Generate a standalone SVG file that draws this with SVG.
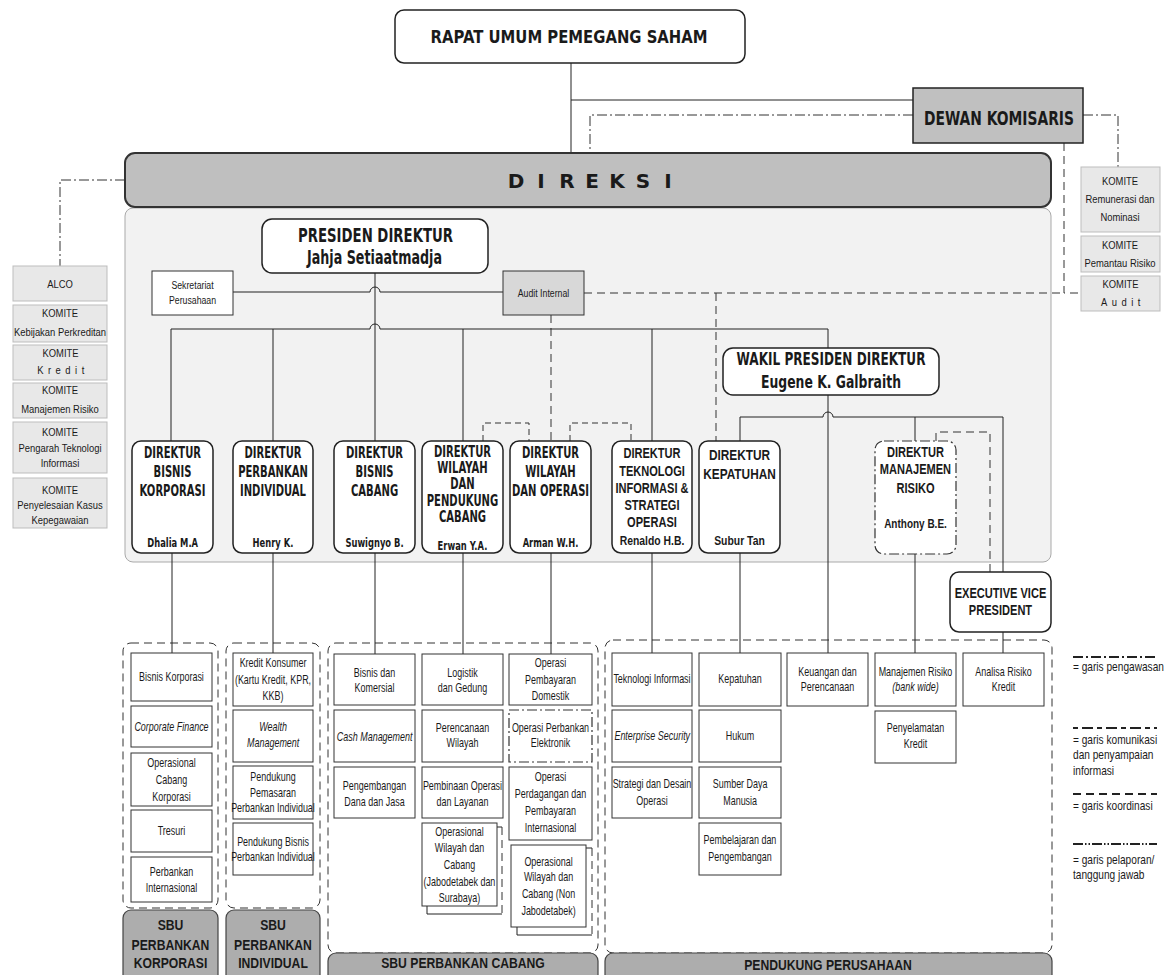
<svg xmlns="http://www.w3.org/2000/svg" width="1165" height="975" viewBox="0 0 1165 975">
<defs>
<style>
.panel{fill:#f2f2f2;stroke:#a9a9a9;stroke-width:1}
.nb{fill:#fff;stroke:#222;stroke-width:1.5}
.gr{fill:#c0c0c0;stroke:#222;stroke-width:1.5}
.dx{fill:#bfbfbf;stroke:#333;stroke-width:2}
.bx{fill:#fff;stroke:#333;stroke-width:1}
.au{fill:#d8d8d8;stroke:#333;stroke-width:1}
.mr{fill:#fff;stroke:#333;stroke-width:1.2;stroke-dasharray:10 3 2 3}
.km{fill:#e8e8e8;stroke:#bdbdbd;stroke-width:1}
.grp{fill:none;stroke:#333;stroke-width:1;stroke-dasharray:8 5}
.lbl{fill:#adadad;stroke:#444;stroke-width:1.2}
.ln{fill:none;stroke:#222;stroke-width:1}
.dd{fill:none;stroke:#333;stroke-width:1;stroke-dasharray:10 3 2 3}
.d2{fill:none;stroke:#333;stroke-width:1;stroke-dasharray:10 2 1.5 2 1.5 2}
.dk{fill:none;stroke:#333;stroke-width:1;stroke-dasharray:5 4 11 4}
.da{fill:none;stroke:#333;stroke-width:1;stroke-dasharray:8 5}
.db{fill:none;stroke:#333;stroke-width:1;stroke-dasharray:6 4}
.lgl{stroke:#222;stroke-width:1.8}
text{fill:#1a1a1a}
.h{font-family:"DejaVu Sans",sans-serif;font-weight:bold;text-anchor:middle}
.s{font-family:"Liberation Sans",Arial,sans-serif;font-size:13px;text-anchor:middle;transform-box:fill-box;transform-origin:center;transform:scaleX(0.69)}
.i{font-style:italic}
.k{font-family:"Liberation Sans",Arial,sans-serif;font-size:11.5px;text-anchor:middle;transform-box:fill-box;transform-origin:center;transform:scaleX(0.82)}
.sk{font-family:"Liberation Sans",Arial,sans-serif;font-size:11.5px;text-anchor:middle;transform-box:fill-box;transform-origin:center;transform:scaleX(0.76)}
.dt{font-family:"DejaVu Sans",sans-serif;font-weight:bold;font-size:15px;text-anchor:middle;transform-box:fill-box;transform-origin:center;transform:scaleX(0.67)}
.dn{font-family:"DejaVu Sans",sans-serif;font-weight:bold;font-size:12.5px;text-anchor:middle;transform-box:fill-box;transform-origin:center;transform:scaleX(0.67)}
.ab{font-family:"Liberation Sans",Arial,sans-serif;font-weight:bold;font-size:14px;text-anchor:middle;transform-box:fill-box;transform-origin:center;transform:scaleX(0.79)}
.an{font-family:"Liberation Sans",Arial,sans-serif;font-weight:bold;font-size:13px;text-anchor:middle;transform-box:fill-box;transform-origin:center;transform:scaleX(0.8)}
.lb{font-family:"Liberation Sans",Arial,sans-serif;font-weight:bold;font-size:14px;text-anchor:middle;transform-box:fill-box;transform-origin:center;transform:scaleX(0.87)}
.lg{font-family:"Liberation Sans",Arial,sans-serif;font-size:13px;text-anchor:start;transform-box:fill-box;transform-origin:left center;transform:scaleX(0.78)}
</style>
</defs>
<rect x="0" y="0" width="1165" height="975" fill="#fff"/>

<g id="panel-direksi"><rect class="panel" x="125" y="208" width="926" height="354" rx="8"/></g>

<g id="containers">
<rect class="grp" x="123" y="643" width="95" height="265" rx="8"/>
<rect class="grp" x="226" y="643" width="94" height="265" rx="8"/>
<rect class="grp" x="328" y="643" width="270" height="310" rx="8"/>
<rect class="grp" x="605" y="640" width="447" height="313" rx="8"/>
</g>

<g id="connectors">
<path class="ln" d="M571,63 V153 M571,100 H913"/>
<path class="dd" d="M913,115 H590 V153"/>
<path class="dd" d="M1083,115 H1118 V167"/>
<path class="dd" d="M125,180 H60 V266"/>
<path class="da" d="M584,293 H1064 M1064,143 V293 H1081"/>
<path class="da" d="M716,293 V441"/>
<path class="da" d="M551,315 V441"/>
<path class="ln" d="M233,292 H370 A5,5 0 0 1 380,292 H503"/>
<path class="ln" d="M375,273 V441"/>
<path class="ln" d="M171,441 V329 H370 A5,5 0 0 1 380,329 H828 V348"/>
<path class="ln" d="M273,329 V441 M463,329 V441 M652,329 V441"/>
<path class="ln" d="M828,395 V653"/>
<path class="ln" d="M740,441 V417 H823 A5,5 0 0 1 833,417 H1003 V572 M915,417 V441"/>
<path class="db" d="M483,441 V423 H529 V441 M570,441 V423 H631 V441"/>
<path class="da" d="M936,441 V432 H990 V572"/>
<path class="ln" d="M172,553 V653 M273,553 V653 M375,553 V654 M463,553 V654 M551,553 V654 M652,553 V653 M740,553 V653 M915,554 V653 M1003,632 V653"/>
</g>

<g id="rups"><rect class="nb" x="395" y="10" width="350" height="53" rx="9"/>
<text class="h" x="569" y="43" font-size="18" textLength="277" lengthAdjust="spacingAndGlyphs">RAPAT UMUM PEMEGANG SAHAM</text></g>

<g id="dewan-komisaris"><rect class="gr" x="913" y="88" width="170" height="55"/>
<text class="h" x="999" y="125" font-size="20" textLength="150" lengthAdjust="spacingAndGlyphs">DEWAN KOMISARIS</text></g>

<g id="direksi"><rect class="dx" x="125" y="153" width="926" height="54" rx="10"/>
<text class="h" font-size="20" x="516 541 567 592 617 643 668" y="188">DIREKSI</text></g>

<g id="komite-alco"><rect class="km" x="13" y="266" width="94" height="35"/><text class="k" x="60" y="288">ALCO</text></g>
<g id="komite-kebijakan"><rect class="km" x="13" y="305" width="94" height="37"/><text class="k"><tspan x="60" y="317">KOMITE</tspan><tspan x="60" y="336">Kebijakan Perkreditan</tspan></text></g>
<g id="komite-kredit"><rect class="km" x="13" y="345" width="94" height="35"/><text class="k"><tspan x="60" y="357">KOMITE</tspan><tspan x="63" y="374" letter-spacing="5.5">Kredit</tspan></text></g>
<g id="komite-mr"><rect class="km" x="13" y="383" width="94" height="35"/><text class="k"><tspan x="60" y="394">KOMITE</tspan><tspan x="60" y="413">Manajemen Risiko</tspan></text></g>
<g id="komite-ti"><rect class="km" x="13" y="422" width="94" height="51"/><text class="k"><tspan x="60" y="436">KOMITE</tspan><tspan x="60" y="452">Pengarah Teknologi</tspan><tspan x="60" y="467">Informasi</tspan></text></g>
<g id="komite-kasus"><rect class="km" x="13" y="478" width="94" height="50"/><text class="k"><tspan x="60" y="494">KOMITE</tspan><tspan x="60" y="509">Penyelesaian Kasus</tspan><tspan x="60" y="524">Kepegawaian</tspan></text></g>

<g id="komite-remunerasi"><rect class="km" x="1081" y="167" width="79" height="65"/><text class="k"><tspan x="1120" y="185">KOMITE</tspan><tspan x="1120" y="203">Remunerasi dan</tspan><tspan x="1120" y="221">Nominasi</tspan></text></g>
<g id="komite-pemantau"><rect class="km" x="1081" y="236" width="79" height="36"/><text class="k"><tspan x="1120" y="249">KOMITE</tspan><tspan x="1120" y="267">Pemantau Risiko</tspan></text></g>
<g id="komite-audit"><rect class="km" x="1081" y="276" width="79" height="35"/><text class="k"><tspan x="1120" y="288">KOMITE</tspan><tspan x="1123" y="306" letter-spacing="5.5">Audit</tspan></text></g>

<g id="presiden"><rect class="nb" x="262" y="219" width="226" height="54" rx="10"/>
<text class="h" x="375.5" y="242" font-size="19.5" textLength="155" lengthAdjust="spacingAndGlyphs">PRESIDEN DIREKTUR</text>
<text class="h" x="374.5" y="264" font-size="19.5" textLength="135" lengthAdjust="spacingAndGlyphs">Jahja Setiaatmadja</text></g>

<g id="sekretariat"><rect class="bx" x="152" y="271" width="81" height="44"/><text class="sk"><tspan x="192.5" y="289">Sekretariat</tspan><tspan x="192.5" y="304">Perusahaan</tspan></text></g>
<g id="audit-internal"><rect class="au" x="503" y="271" width="81" height="44"/><text class="sk" x="543.5" y="297">Audit Internal</text></g>

<g id="wakil"><rect class="nb" x="723" y="348" width="216" height="47" rx="10"/>
<text class="h" x="831" y="365" font-size="17" textLength="189" lengthAdjust="spacingAndGlyphs">WAKIL PRESIDEN DIREKTUR</text>
<text class="h" x="831" y="388" font-size="17" textLength="140" lengthAdjust="spacingAndGlyphs">Eugene K. Galbraith</text></g>

<g id="dir-korporasi"><rect class="nb" x="132" y="441" width="81" height="112" rx="9"/>
<text class="dt"><tspan x="172.5" y="458">DIREKTUR</tspan><tspan x="172.5" y="477">BISNIS</tspan><tspan x="172.5" y="496">KORPORASI</tspan></text>
<text class="dn" x="172.5" y="547">Dhalia M.A</text></g>
<g id="dir-individual"><rect class="nb" x="233" y="441" width="80" height="112" rx="9"/>
<text class="dt"><tspan x="273" y="458">DIREKTUR</tspan><tspan x="273" y="477">PERBANKAN</tspan><tspan x="273" y="496">INDIVIDUAL</tspan></text>
<text class="dn" x="273" y="547">Henry K.</text></g>
<g id="dir-cabang"><rect class="nb" x="334" y="441" width="81" height="112" rx="9"/>
<text class="dt"><tspan x="374.5" y="458">DIREKTUR</tspan><tspan x="374.5" y="477">BISNIS</tspan><tspan x="374.5" y="496">CABANG</tspan></text>
<text class="dn" x="374.5" y="547">Suwignyo B.</text></g>
<g id="dir-wilayah-pendukung"><rect class="nb" x="422" y="441" width="81" height="112" rx="9"/>
<text class="dt"><tspan x="462.5" y="457">DIREKTUR</tspan><tspan x="462.5" y="473">WILAYAH</tspan><tspan x="462.5" y="489">DAN</tspan><tspan x="462.5" y="506">PENDUKUNG</tspan><tspan x="462.5" y="522">CABANG</tspan></text>
<text class="dn" x="462.5" y="550">Erwan Y.A.</text></g>
<g id="dir-wilayah-operasi"><rect class="nb" x="510" y="441" width="81" height="112" rx="9"/>
<text class="dt"><tspan x="550.5" y="458">DIREKTUR</tspan><tspan x="550.5" y="477">WILAYAH</tspan><tspan x="550.5" y="496">DAN OPERASI</tspan></text>
<text class="dn" x="550.5" y="547">Arman W.H.</text></g>
<g id="dir-ti"><rect class="nb" x="612" y="441" width="80" height="112" rx="9"/>
<text class="ab"><tspan x="652" y="458">DIREKTUR</tspan><tspan x="652" y="476">TEKNOLOGI</tspan><tspan x="652" y="493">INFORMASI &amp;</tspan><tspan x="652" y="510">STRATEGI</tspan><tspan x="652" y="527">OPERASI</tspan></text>
<text class="an" x="652" y="545">Renaldo H.B.</text></g>
<g id="dir-kepatuhan"><rect class="nb" x="699" y="441" width="81" height="112" rx="9"/>
<text class="ab" style="font-size:15px"><tspan x="739.5" y="460">DIREKTUR</tspan><tspan x="739.5" y="479">KEPATUHAN</tspan></text>
<text class="an" x="739.5" y="545">Subur Tan</text></g>
<g id="dir-risiko"><rect class="mr" x="875" y="441" width="81" height="113" rx="9"/>
<text class="ab"><tspan x="915.5" y="457">DIREKTUR</tspan><tspan x="915.5" y="474">MANAJEMEN</tspan><tspan x="915.5" y="493">RISIKO</tspan></text>
<text class="an" style="font-size:12.5px" x="915.5" y="528">Anthony B.E.</text></g>
<g id="evp"><rect class="nb" x="950" y="572" width="101" height="60" rx="9"/>
<text class="ab"><tspan x="1000.5" y="598">EXECUTIVE VICE</tspan><tspan x="1000.5" y="615">PRESIDENT</tspan></text></g>

<g id="sbu-korporasi">
<rect class="bx" x="131" y="653" width="81" height="48"/><text class="s" x="171.5" y="681">Bisnis Korporasi</text>
<rect class="bx" x="131" y="706" width="81" height="41"/><text class="s i" x="171.5" y="731">Corporate Finance</text>
<rect class="bx" x="131" y="753" width="81" height="53"/><text class="s"><tspan x="171.5" y="767">Operasional</tspan><tspan x="171.5" y="784">Cabang</tspan><tspan x="171.5" y="801">Korporasi</tspan></text>
<rect class="bx" x="131" y="810" width="81" height="42"/><text class="s" x="171.5" y="835">Tresuri</text>
<rect class="bx" x="131" y="857" width="81" height="45"/><text class="s"><tspan x="171.5" y="876">Perbankan</tspan><tspan x="171.5" y="892">Internasional</tspan></text>
<rect class="lbl" x="123" y="910" width="95" height="80" rx="8"/>
<text class="lb"><tspan x="170.5" y="930">SBU</tspan><tspan x="170.5" y="950">PERBANKAN</tspan><tspan x="170.5" y="968">KORPORASI</tspan></text>
</g>

<g id="sbu-individual">
<rect class="bx" x="233" y="653" width="80" height="53"/><text class="s"><tspan x="273" y="667">Kredit Konsumer</tspan><tspan x="273" y="684">(Kartu Kredit, KPR,</tspan><tspan x="273" y="700">KKB)</tspan></text>
<rect class="bx" x="233" y="710" width="80" height="52"/><text class="s i"><tspan x="273" y="731">Wealth</tspan><tspan x="273" y="747">Management</tspan></text>
<rect class="bx" x="233" y="766" width="80" height="53"/><text class="s"><tspan x="273" y="781">Pendukung</tspan><tspan x="273" y="797">Pemasaran</tspan><tspan x="273" y="812">Perbankan Individual</tspan></text>
<rect class="bx" x="233" y="823" width="80" height="52"/><text class="s"><tspan x="273" y="846">Pendukung Bisnis</tspan><tspan x="273" y="861">Perbankan Individual</tspan></text>
<rect class="lbl" x="226" y="910" width="94" height="80" rx="8"/>
<text class="lb"><tspan x="273" y="930">SBU</tspan><tspan x="273" y="950">PERBANKAN</tspan><tspan x="273" y="968">INDIVIDUAL</tspan></text>
</g>

<g id="sbu-cabang">
<rect class="bx" x="334" y="654" width="81" height="51"/><text class="s"><tspan x="374.5" y="677">Bisnis dan</tspan><tspan x="374.5" y="692">Komersial</tspan></text>
<rect class="bx" x="334" y="710" width="81" height="52"/><text class="s i" x="374.5" y="741">Cash Management</text>
<rect class="bx" x="334" y="767" width="81" height="51"/><text class="s"><tspan x="374.5" y="790">Pengembangan</tspan><tspan x="374.5" y="806">Dana dan Jasa</tspan></text>
<rect class="bx" x="422" y="654" width="81" height="51"/><text class="s"><tspan x="462.5" y="677">Logistik</tspan><tspan x="462.5" y="692">dan Gedung</tspan></text>
<rect class="bx" x="422" y="710" width="81" height="52"/><text class="s"><tspan x="462.5" y="732">Perencanaan</tspan><tspan x="462.5" y="747">Wilayah</tspan></text>
<rect class="bx" x="422" y="767" width="81" height="51"/><text class="s"><tspan x="462.5" y="790">Pembinaan Operasi</tspan><tspan x="462.5" y="806">dan Layanan</tspan></text>
<path class="ln" d="M497,827 H502 M427,906 V914 H502"/><path class="da" d="M502,827 V914"/>
<rect class="bx" x="422" y="823" width="75" height="83"/><text class="s"><tspan x="459.5" y="836">Operasional</tspan><tspan x="459.5" y="852">Wilayah dan</tspan><tspan x="459.5" y="869">Cabang</tspan><tspan x="459.5" y="886">(Jabodetabek dan</tspan><tspan x="459.5" y="902">Surabaya)</tspan></text>
<rect class="bx" x="509" y="654" width="83" height="51"/><text class="s"><tspan x="550.5" y="667">Operasi</tspan><tspan x="550.5" y="684">Pembayaran</tspan><tspan x="550.5" y="700">Domestik</tspan></text>
<rect class="mr" x="509" y="710" width="83" height="52" rx="0"/><text class="s"><tspan x="550.5" y="732">Operasi Perbankan</tspan><tspan x="550.5" y="747">Elektronik</tspan></text>
<rect class="bx" x="509" y="767" width="83" height="73"/><text class="s"><tspan x="550.5" y="781">Operasi</tspan><tspan x="550.5" y="798">Perdagangan dan</tspan><tspan x="550.5" y="815">Pembayaran</tspan><tspan x="550.5" y="832">Internasional</tspan></text>
<path class="ln" d="M586,848 H592 M517,927 V935 H592"/><path class="da" d="M592,848 V935"/>
<rect class="bx" x="511" y="845" width="75" height="82"/><text class="s"><tspan x="548.5" y="866">Operasional</tspan><tspan x="548.5" y="881">Wilayah dan</tspan><tspan x="548.5" y="898">Cabang (Non</tspan><tspan x="548.5" y="915">Jabodetabek)</tspan></text>
<rect class="lbl" x="328" y="953" width="270" height="40" rx="8"/>
<text class="lb" x="463" y="968">SBU PERBANKAN CABANG</text>
</g>

<g id="pendukung-perusahaan">
<rect class="bx" x="612" y="653" width="80" height="53"/><text class="s" x="652" y="683">Teknologi Informasi</text>
<rect class="bx" x="612" y="710" width="80" height="52"/><text class="s i" x="652" y="740">Enterprise Security</text>
<rect class="bx" x="612" y="767" width="80" height="51"/><text class="s"><tspan x="652" y="788">Strategi dan Desain</tspan><tspan x="652" y="805">Operasi</tspan></text>
<rect class="bx" x="699" y="653" width="82" height="53"/><text class="s" x="740" y="683">Kepatuhan</text>
<rect class="bx" x="699" y="710" width="82" height="52"/><text class="s" x="740" y="740">Hukum</text>
<rect class="bx" x="699" y="767" width="82" height="51"/><text class="s"><tspan x="740" y="788">Sumber Daya</tspan><tspan x="740" y="805">Manusia</tspan></text>
<rect class="bx" x="699" y="823" width="82" height="52"/><text class="s"><tspan x="740" y="844">Pembelajaran dan</tspan><tspan x="740" y="861">Pengembangan</tspan></text>
<rect class="bx" x="787" y="653" width="81" height="53"/><text class="s"><tspan x="827.5" y="676">Keuangan dan</tspan><tspan x="827.5" y="691">Perencanaan</tspan></text>
<rect class="bx" x="875" y="653" width="81" height="53"/><text class="s"><tspan x="915.5" y="676">Manajemen Risiko</tspan><tspan x="915.5" y="691" font-style="italic">(bank wide)</tspan></text>
<rect class="bx" x="875" y="711" width="81" height="52"/><text class="s"><tspan x="915.5" y="732">Penyelamatan</tspan><tspan x="915.5" y="748">Kredit</tspan></text>
<rect class="bx" x="963" y="653" width="81" height="53"/><text class="s"><tspan x="1003.5" y="676">Analisa Risiko</tspan><tspan x="1003.5" y="691">Kredit</tspan></text>
<rect class="lbl" x="605" y="953" width="447" height="40" rx="8"/>
<text class="lb" x="828" y="970">PENDUKUNG PERUSAHAAN</text>
</g>

<g id="legend">
<path class="dd lgl" d="M1073,657 H1157"/>
<text class="lg" x="1073" y="671">= garis pengawasan</text>
<path class="dk lgl" d="M1073,728 H1157"/>
<text class="lg"><tspan x="1073" y="744">= garis komunikasi</tspan><tspan x="1073" y="759">dan penyampaian</tspan><tspan x="1073" y="775">informasi</tspan></text>
<path class="da lgl" d="M1073,794 H1157"/>
<text class="lg" x="1073" y="810">= garis koordinasi</text>
<path class="d2 lgl" d="M1073,844 H1157"/>
<text class="lg"><tspan x="1073" y="864">= garis pelaporan/</tspan><tspan x="1073" y="879">tanggung jawab</tspan></text>
</g>
</svg>
